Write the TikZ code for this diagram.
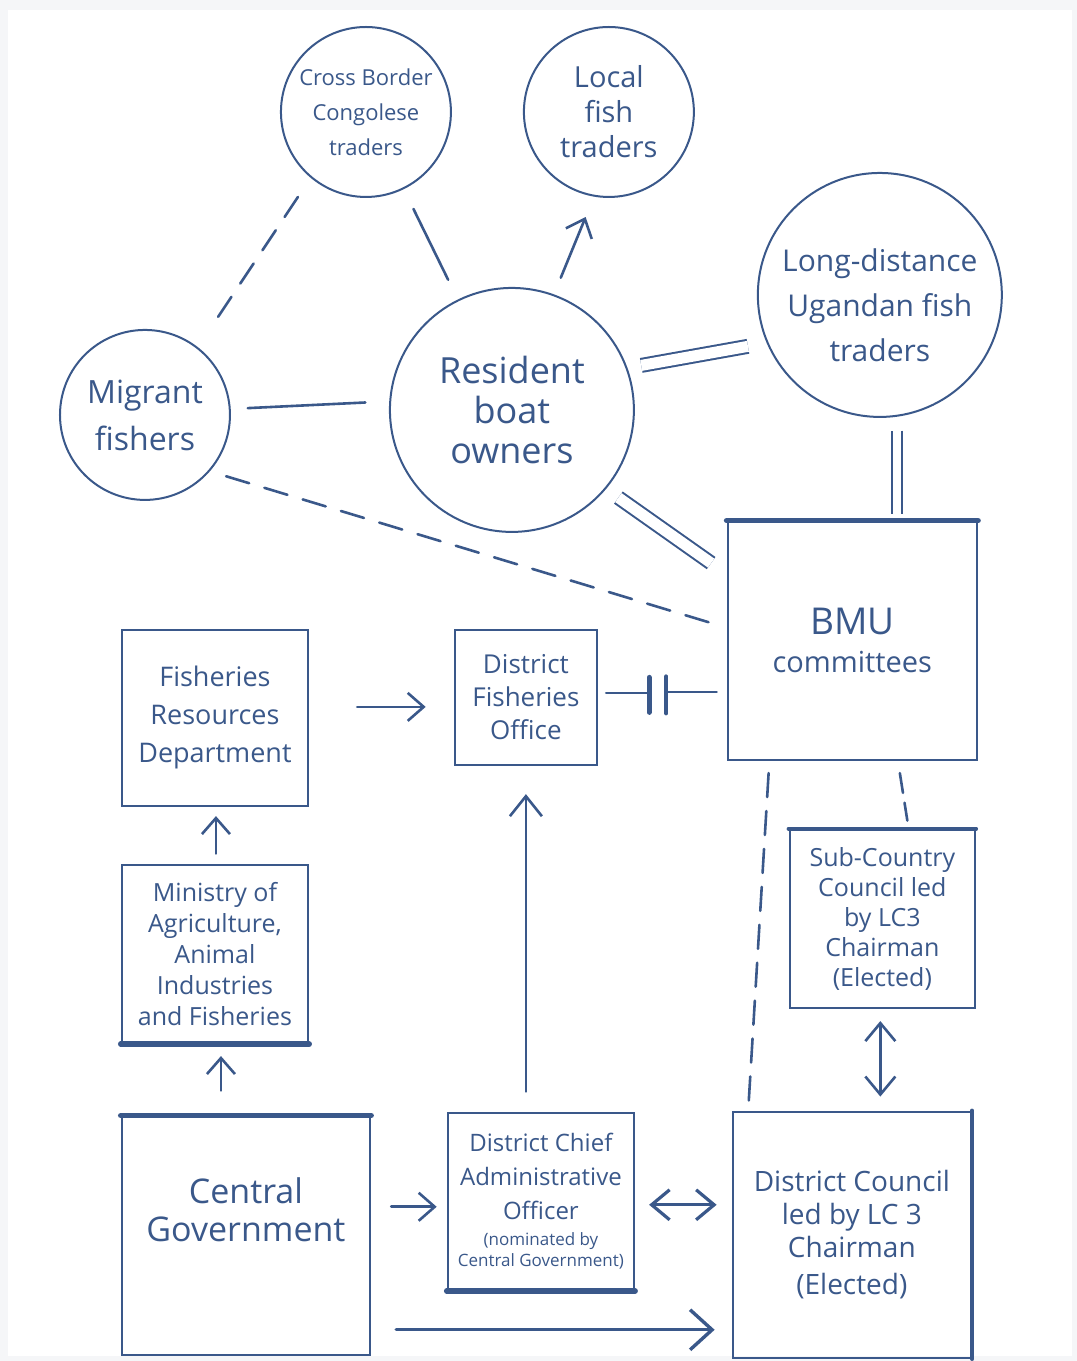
\documentclass[tikz,border=0pt]{standalone}
\usepackage{fontspec}
\setmainfont{Open Sans}
\usetikzlibrary{arrows.meta,calc}
\definecolor{ink}{HTML}{3A588A}
\definecolor{paper}{HTML}{F5F6F8}
\begin{document}
\begin{tikzpicture}[x=1pt,y=-1pt,
  circ/.style={circle,draw=ink,line width=2pt,inner sep=0pt,align=center,text=ink},
  box/.style={rectangle,draw=ink,line width=2.5pt,inner sep=0pt,align=center,text=ink},
  conn/.style={draw=ink,line width=2.6pt,line cap=round},
  dsh/.style={conn,dash pattern=on 24pt off 16pt},
  dbl/.style={draw=ink,double=white,line width=2pt},
  tip/.style={-{Straight Barb[length=16pt,width=28pt]}},
  bigtip/.style={-{Straight Barb[length=22pt,width=40pt]}},
  twotip/.style={{Straight Barb[length=18pt,width=30pt]}-{Straight Barb[length=18pt,width=30pt]}},
  brush/.style={draw=ink,line width=5.5pt,line cap=round},
  fs/.style 2 args={font=\fontsize{#1}{#2}\selectfont}
]
% page
\path[fill=paper] (0,0) rectangle (1077,1361);
\path[fill=white] (8,10) rectangle (1072,1356);

% circles
\node[circ,minimum size=170pt,fs={22}{35}] (cross) at (366,112) {Cross Border\\Congolese\\traders};
\node[circ,minimum size=170pt,fs={29}{35}] (local) at (609,112) {Local\\fish\\traders};
\node[circ,minimum size=244pt] (long) at (880,295) {};
\node[text=ink,align=center,inner sep=0pt,fs={30}{45}] (longtxt) at (880,305) {Long-distance\\Ugandan fish\\traders};
\node[circ,minimum size=244pt,fs={36}{40}] (res) at (512,410) {Resident\\boat\\owners};
\node[circ,minimum size=170pt,fs={32}{47}] (migr) at (145,415) {Migrant\\fishers};

% boxes
\node[box,minimum width=249pt,minimum height=238pt,fs={37}{34}] (bmu) at (852.5,641) {BMU\\[4pt]\fontsize{29}{30}\selectfont committees};
\node[box,minimum width=186pt,minimum height=176pt,fs={27}{38}] (frd) at (215,718) {Fisheries\\Resources\\Department};
\node[box,minimum width=142pt,minimum height=135pt,fs={26}{33}] (dfo) at (526,697.5) {District\\Fisheries\\Office};
\node[box,minimum width=186pt,minimum height=178pt,fs={25}{31}] (min) at (215,954) {Ministry of\\Agriculture,\\Animal\\Industries\\and Fisheries};
\node[box,minimum width=185pt,minimum height=178pt,fs={25}{30}] (sc) at (882.5,919) {Sub-Country\\Council led\\by LC3\\Chairman\\(Elected)};
\node[box,minimum width=248pt,minimum height=238pt,fs={34}{38}] (cg) at (246,1236) {Central\\Government\\[14pt]\mbox{}};
\node[box,minimum width=186pt,minimum height=177pt,fs={24}{34}] (dcao) at (541,1201.5) {District Chief\\Administrative\\Officer\\[-8pt]\fontsize{17}{22}\selectfont (nominated by\\[-13pt]\fontsize{17}{22}\selectfont Central Government)};
\node[box,minimum width=238pt,minimum height=246pt,fs={28}{33}] (dc) at (852,1235) {District Council\\led by LC 3\\Chairman\\[4pt](Elected)};

% brush accents
\draw[brush] (bmu.north west) -- (bmu.north east);
\draw[brush] (cg.north west) -- (cg.north east);
\draw[brush] (dcao.south west) -- (dcao.south east);
\draw[brush] (min.south west) -- (min.south east);
\draw[brush,line width=4pt] (sc.north west) -- (sc.north east);
\draw[brush,line width=4pt] (dc.south east) -- (dc.north east);

% top connectors
\draw[conn,shorten <=22pt,shorten >=22pt] (cross) -- (res);
\draw[conn,tip,shorten <=18pt,shorten >=22pt] (res.70) -- (local.260);
\draw[dsh,shorten <=23pt,shorten >=23pt] (cross.230) -- (migr.52);
\draw[conn,shorten <=17pt,shorten >=24pt] (migr.4) -- (res.176);
\draw[dsh,shorten <=17pt,shorten >=16pt] (migr.-41) -- (bmu.174);
\draw[dbl,double distance=11pt,shorten <=14pt,shorten >=19pt] (res.20) -- (long.203);
\draw[dbl,double distance=11pt,shorten <=15pt,shorten >=19pt] (res.-40) -- (bmu.152);
\draw[dbl,double distance=8pt,shorten <=14pt,shorten >=7pt] (long.-82) -- (long.-82 |- bmu.north);

% middle connectors
\draw[conn,tip] ($(frd.east)+(48,-11)$) -- ($(dfo.west)+(-28,9.5)$);
\draw[conn] ($(dfo.east)+(8,-4.5)$) -- ($(dfo.east)+(51,-4.5)$);
\draw[conn,line width=5pt] ($(dfo.east)+(51,-20)$) -- ($(dfo.east)+(51,15)$);
\draw[conn,line width=4pt] ($(dfo.east)+(68,-21)$) -- ($(dfo.east)+(68,16)$);
\draw[conn] ($(dfo.east)+(68,-5.5)$) -- ($(bmu.west |- dfo.east)+(-10,-5.5)$);
\draw[conn,tip] ($(min.north)+(1,-10)$) -- ($(frd.south)+(1,9)$);
\draw[conn,tip] ($(cg.north -| min.south)+(6,-25)$) -- ($(min.south)+(6,12)$);
\draw[conn,-{Straight Barb[length=20pt,width=32pt]}] ($(dcao.north -| dfo.south)+(0,-20)$) -- ($(dfo.south)+(0,28)$);
\draw[conn,dash pattern=on 24pt off 14pt] ($(bmu.south west)+(42,12)$) -- ($(dc.north west)+(17,-7)$);
\draw[conn,dash pattern=on 20pt off 10pt] ($(bmu.south)+(47.5,12)$) -- ($(sc.north)+(25,-8)$);
\draw[conn,twotip] ($(sc.south)+(-2,12)$) -- ($(sc.south |- dc.north)+(-2,-14)$);

% bottom connectors
\draw[conn,tip] ($(cg.east)+(20,-29)$) -- ($(dcao.west)+(-10,5.5)$);
\draw[conn,twotip,line width=3.2pt] ($(dcao.east)+(14,3.5)$) -- ($(dcao.east -| dc.west)+(-15,3.5)$);
\draw[conn,bigtip,line width=3.4pt] ($(cg.east)+(25,94)$) -- ($(cg.east -| dc.west)+(-17,94)$);
\end{tikzpicture}
\end{document}
